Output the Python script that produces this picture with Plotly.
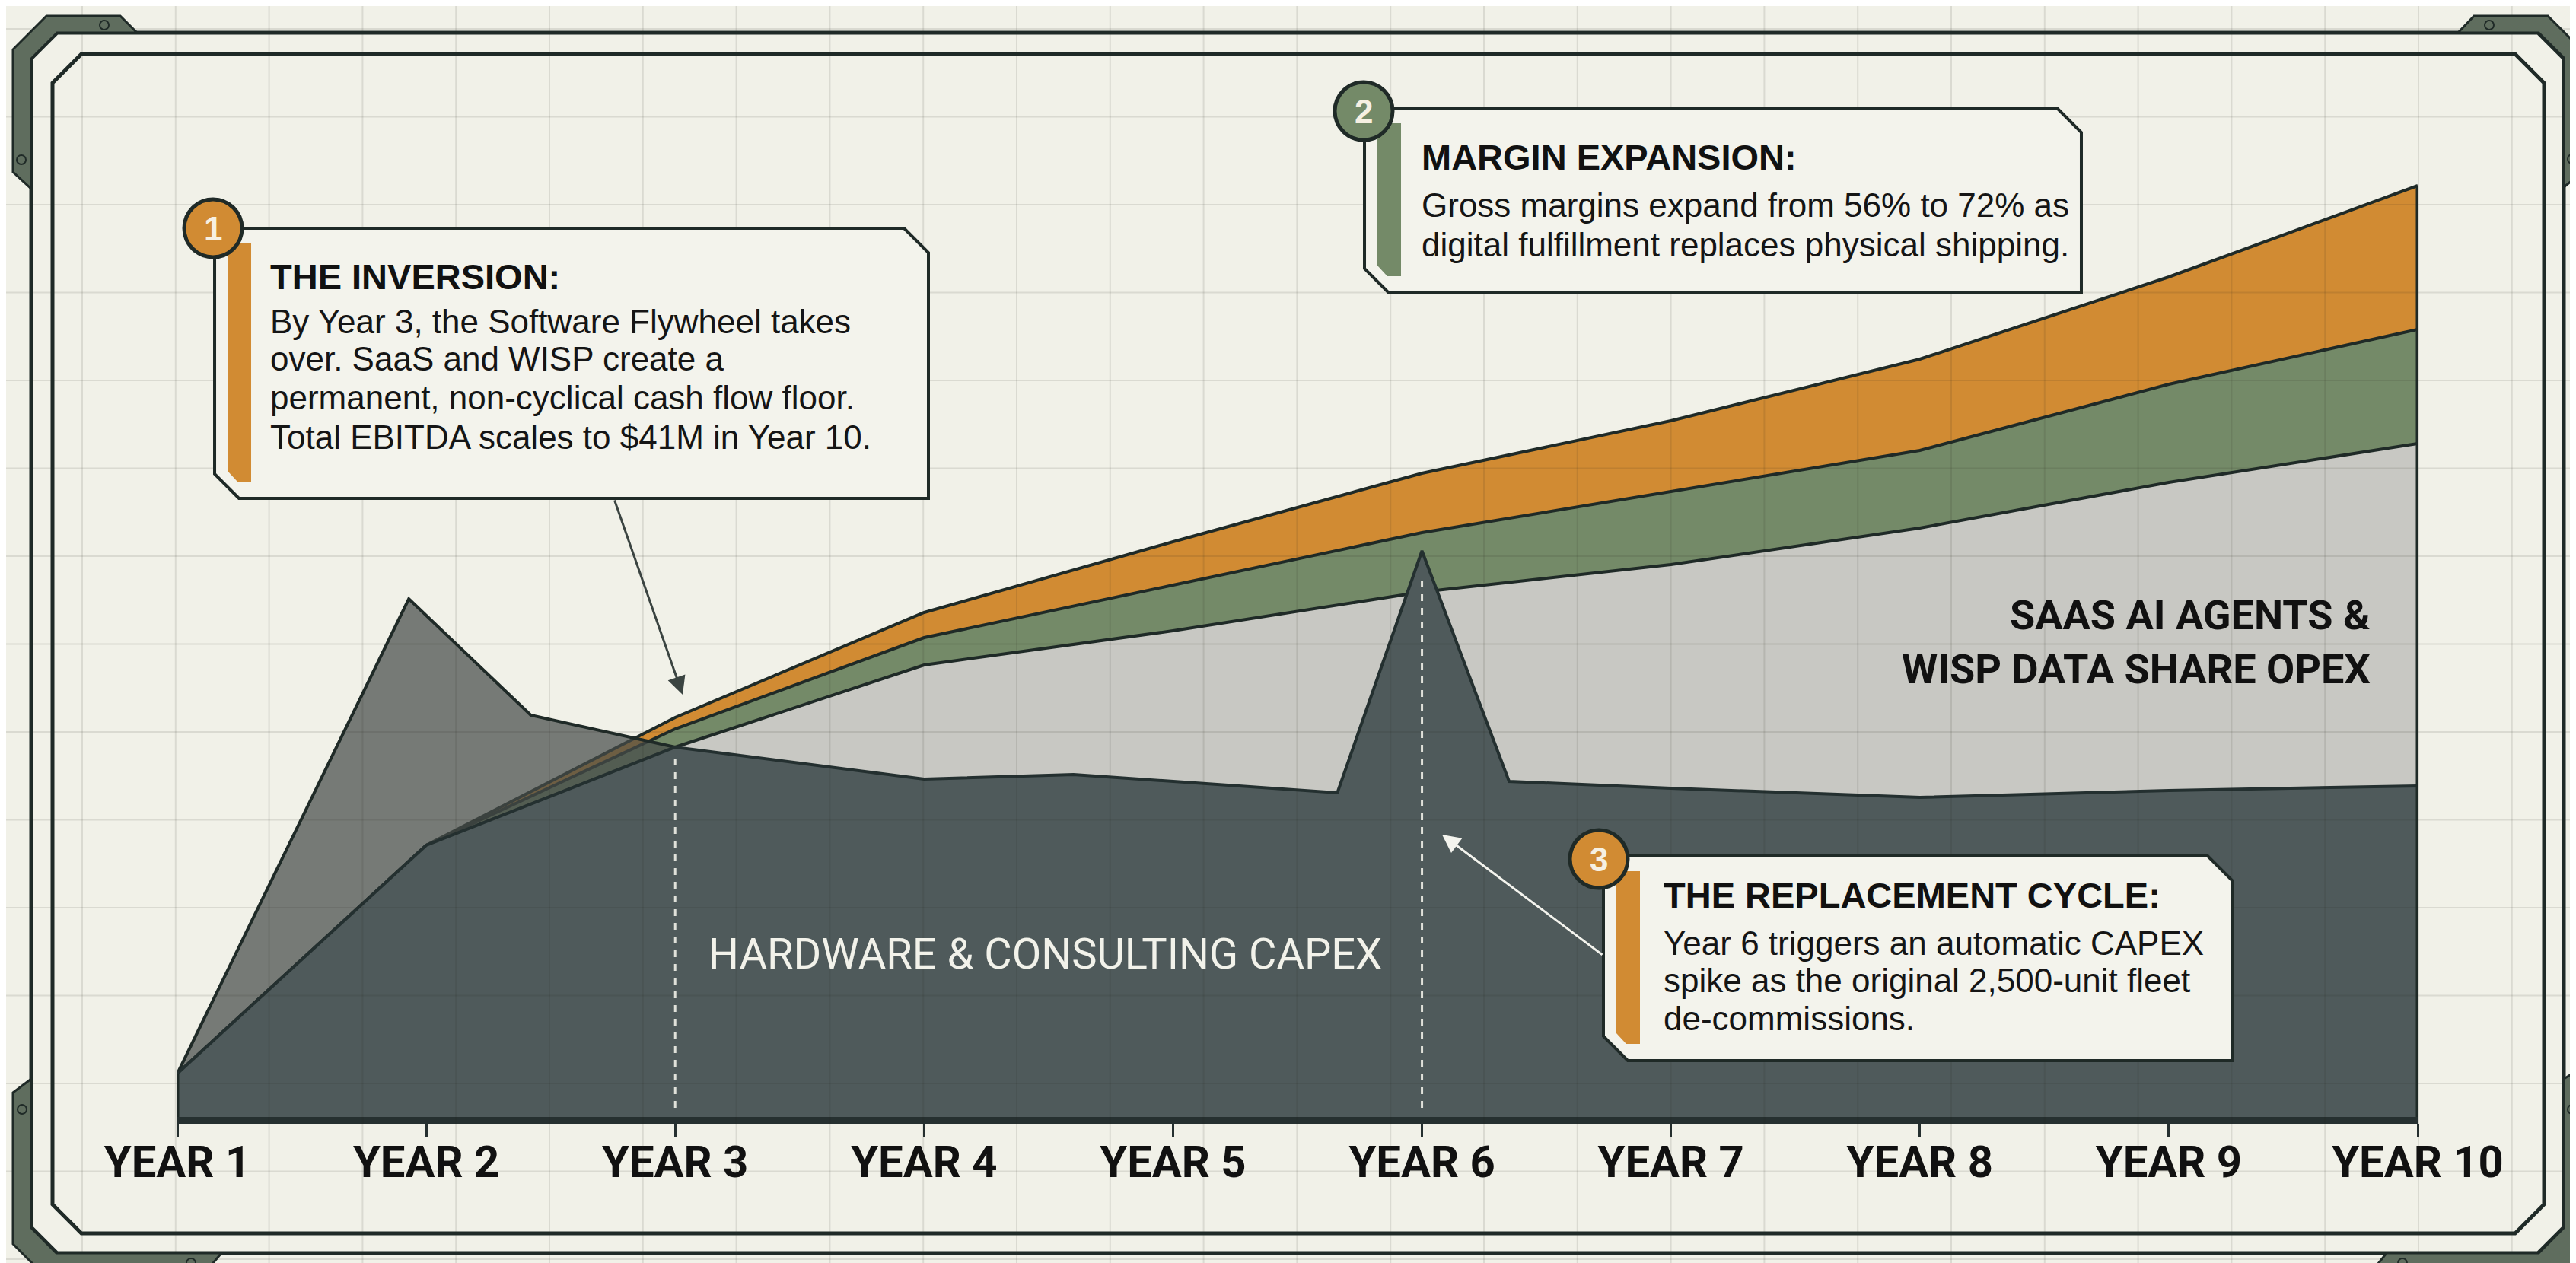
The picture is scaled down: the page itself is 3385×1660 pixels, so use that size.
import plotly.graph_objects as go

W, H = 3385, 1660

# ---------------- data ----------------
years = [1, 2, 3, 4, 5, 6, 7, 8, 9, 10]
year_labels = ["YEAR 1", "YEAR 2", "YEAR 3", "YEAR 4", "YEAR 5",
               "YEAR 6", "YEAR 7", "YEAR 8", "YEAR 9", "YEAR 10"]
saas_wisp_opex = [1.9, 11.9, 16.2, 19.8, 21.3, 23.0, 24.2, 25.8, 27.8, 29.5]
margin_layer = [0.0, 0.0, 0.8, 1.2, 2.0, 2.6, 3.2, 3.4, 4.3, 5.0]
top_layer = [0.0, 0.0, 0.5, 1.1, 1.9, 2.6, 3.1, 4.0, 4.7, 6.3]
capex_x = [1, 1.93, 2.42, 3, 4, 4.6, 5.66, 6, 6.35, 7, 8, 9, 10]
capex = [1.9, 22.7, 17.6, 16.2, 14.8, 15.0, 14.2, 24.8, 14.7, 14.4, 14.0, 14.3, 14.5]

# ---------------- styling ----------------
CREAM = "#f1f1e8"
INK = "#1f2a27"
DARK = "#4f5a5b"
GRAY = "#c8c8c3"
GREEN = "#748a68"
ORANGE = "#d18b33"
BRACKET = "#5f6d5e"
NARROW = "Roboto, Liberation Sans, sans-serif"
SANS = "Liberation Sans, Arial, Helvetica, sans-serif"


def px(x):
    return x / W


def py(y):
    return 1 - y / H


def path(points):
    return "M " + " L ".join(f"{px(x):.5f},{py(y):.5f}" for x, y in points) + " Z"


fig = go.Figure()

# software stack
fig.add_trace(go.Scatter(x=years, y=saas_wisp_opex, stackgroup="sw", mode="lines",
                         fillcolor=GRAY, line=dict(color=INK, width=4),
                         name="SaaS AI Agents & WISP Data Share OPEX"))
fig.add_trace(go.Scatter(x=years, y=margin_layer, stackgroup="sw", mode="lines",
                         fillcolor=GREEN, line=dict(color=INK, width=4),
                         name="Margin expansion"))
fig.add_trace(go.Scatter(x=years, y=top_layer, stackgroup="sw", mode="lines",
                         fillcolor=ORANGE, line=dict(color=INK, width=4),
                         name="Digital fulfillment"))

# hardware capex above the software floor (early years)
fig.add_trace(go.Scatter(x=capex_x[:4], y=capex[:4], fill="tozeroy", mode="lines",
                         fillcolor="rgba(70,76,74,0.72)", line=dict(color=INK, width=4),
                         name="Hardware & Consulting CAPEX"))
# dark core region
fig.add_trace(go.Scatter(x=years[:2] + capex_x[3:], y=saas_wisp_opex[:2] + capex[3:],
                         fill="tozeroy", mode="lines", fillcolor=DARK,
                         line=dict(color="#243030", width=4), name="CAPEX core"))

shapes = []
# background grid over the whole canvas
gx = 100.0
while gx < W:
    shapes.append(dict(type="line", xref="paper", yref="paper", x0=px(gx), x1=px(gx),
                       y0=0, y1=1, line=dict(color="rgba(40,40,30,0.11)", width=2), layer="above"))
    gx += 122.8
gy = 30.0
while gy < H:
    shapes.append(dict(type="line", xref="paper", yref="paper", x0=0, x1=1,
                       y0=py(gy), y1=py(gy), line=dict(color="rgba(40,40,30,0.11)", width=2), layer="above"))
    gy += 115.5

# edge strokes of the stack
total_end = saas_wisp_opex[-1] + margin_layer[-1] + top_layer[-1]
shapes.append(dict(type="line", xref="x", yref="y", x0=10, x1=10, y0=0, y1=total_end,
                   line=dict(color=INK, width=5), layer="above"))
shapes.append(dict(type="line", xref="x", yref="y", x0=1, x1=1, y0=0, y1=capex[0],
                   line=dict(color=INK, width=5), layer="above"))

# dashed markers
shapes.append(dict(type="line", xref="x", yref="y", x0=3, x1=3, y0=0.4, y1=capex[3] - 0.3,
                   line=dict(color="rgba(240,240,232,0.9)", width=3, dash="dash"), layer="above"))
shapes.append(dict(type="line", xref="x", yref="y", x0=6, x1=6, y0=0.4, y1=capex[7] - 1.2,
                   line=dict(color="rgba(240,240,232,0.9)", width=3, dash="dash"), layer="above"))


def chamfer_rect(x0, y0, x1, y1, c):
    return [(x0 + c, y0), (x1 - c, y0), (x1, y0 + c), (x1, y1 - c),
            (x1 - c, y1), (x0 + c, y1), (x0, y1 - c), (x0, y0 + c)]


# frame
shapes.append(dict(type="path", xref="paper", yref="paper",
                   path=path(chamfer_rect(33, 35, 3361, 1639, 34)),
                   line=dict(color=INK, width=5), layer="above"))
shapes.append(dict(type="path", xref="paper", yref="paper",
                   path=path(chamfer_rect(61, 63, 3335, 1613, 38)),
                   line=dict(color=INK, width=5), layer="above"))

brackets = [
    [(53, 13), (150, 13), (172, 35), (67, 35), (33, 69), (33, 240), (9, 218), (9, 57)],
    [(3243, 13), (3340, 13), (3383, 56), (3383, 220), (3361, 238), (3361, 68), (3328, 35), (3222, 35)],
    [(9, 1428), (33, 1410), (33, 1606), (66, 1639), (283, 1639), (262, 1664), (46, 1664), (9, 1627)],
    [(3361, 1410), (3390, 1392), (3390, 1664), (3108, 1664), (3128, 1639), (3328, 1639), (3361, 1606)],
]
for b in brackets:
    shapes.append(dict(type="path", xref="paper", yref="paper", path=path(b),
                       fillcolor=BRACKET, line=dict(color=INK, width=3), layer="above"))
for sx, sy in [(129, 25), (20, 202), (3263, 25), (3372, 201), (21, 1450), (243, 1652),
               (3372, 1450), (3149, 1652)]:
    shapes.append(dict(type="circle", xref="paper", yref="paper",
                       x0=px(sx - 6), x1=px(sx + 6), y0=py(sy + 6), y1=py(sy - 6),
                       line=dict(color=INK, width=2), fillcolor="rgba(0,0,0,0)", layer="above"))

# annotation boxes
boxes = [
    dict(l=274, t=292, r=1212, b=647, bar=ORANGE, badge=(272, 292), num="1"),
    dict(l=1785, t=134, r=2727, b=377, bar=GREEN, badge=(1784, 138), num="2"),
    dict(l=2099, t=1117, r=2925, b=1386, bar=ORANGE, badge=(2093, 1121), num="3"),
]
annotations = []
for bx in boxes:
    l, t, r, b = bx["l"], bx["t"], bx["r"], bx["b"]
    c = 32
    pts = [(l, t), (r - c, t), (r, t + c), (r, b), (l + c, b), (l, b - c)]
    shapes.append(dict(type="path", xref="paper", yref="paper", path=path(pts),
                       fillcolor="#f3f3ec", line=dict(color=INK, width=4), layer="above"))
    bar = [(l + 17, t + 20), (l + 48, t + 20), (l + 48, b - 22), (l + 30, b - 22), (l + 17, b - 36)]
    shapes.append(dict(type="path", xref="paper", yref="paper", path=path(bar),
                       fillcolor=bx["bar"], line=dict(width=0), layer="above"))
    cx, cy = bx["badge"]
    rr = 38
    shapes.append(dict(type="circle", xref="paper", yref="paper",
                       x0=px(cx - rr), x1=px(cx + rr), y0=py(cy + rr), y1=py(cy - rr),
                       fillcolor=bx["bar"], line=dict(color=INK, width=5), layer="above"))
    annotations.append(dict(xref="paper", yref="paper", x=px(cx), y=py(cy), text=f"<b>{bx['num']}</b>",
                            showarrow=False, xanchor="center", yanchor="middle",
                            font=dict(family=SANS, size=44, color="#f6f0e2")))

box_texts = [
    (345, 356, "THE INVERSION:", [
        (414, "By Year 3, the Software Flywheel takes"),
        (464, "over. SaaS and WISP create a"),
        (514, "permanent, non-cyclical cash flow floor."),
        (566, "Total EBITDA scales to $41M in Year 10."),
    ]),
    (1858, 199, "MARGIN EXPANSION:", [
        (261, "Gross margins expand from 56% to 72% as"),
        (313, "digital fulfillment replaces physical shipping."),
    ]),
    (2176, 1168, "THE REPLACEMENT CYCLE:", [
        (1231, "Year 6 triggers an automatic CAPEX"),
        (1280, "spike as the original 2,500-unit fleet"),
        (1330, "de-commissions."),
    ]),
]
for tx, ty, title, lines in box_texts:
    annotations.append(dict(xref="paper", yref="paper", x=px(tx), y=py(ty), text=f"<b>{title}</b>",
                            showarrow=False, xanchor="left", yanchor="middle",
                            font=dict(family=SANS, size=47, color="#111111")))
    for ly, line in lines:
        annotations.append(dict(xref="paper", yref="paper", x=px(tx), y=py(ly), text=line,
                                showarrow=False, xanchor="left", yanchor="middle",
                                font=dict(family=SANS, size=44, color="#151515")))

# region labels
annotations.append(dict(xref="paper", yref="paper", x=px(1365), y=py(1246),
                        text="HARDWARE & CONSULTING CAPEX", showarrow=False,
                        xanchor="center", yanchor="middle",
                        font=dict(family=NARROW, size=56, color="#f2f2ea")))
annotations.append(dict(xref="paper", yref="paper", x=px(3109), y=py(800),
                        text="<b>SAAS AI AGENTS &</b>", showarrow=False,
                        xanchor="right", yanchor="middle",
                        font=dict(family=NARROW, size=54, color="#111111")))
annotations.append(dict(xref="paper", yref="paper", x=px(3109), y=py(871),
                        text="<b>WISP DATA SHARE OPEX</b>", showarrow=False,
                        xanchor="right", yanchor="middle",
                        font=dict(family=NARROW, size=54, color="#111111")))

# arrows
annotations.append(dict(xref="paper", yref="paper", x=px(889), y=py(905), text="",
                        showarrow=True, ax=799 - 889, ay=648 - 905, axref="pixel", ayref="pixel",
                        arrowhead=2, arrowsize=1.6, arrowwidth=3, arrowcolor="#3b4441"))
annotations.append(dict(xref="paper", yref="paper", x=px(1887), y=py(1089), text="",
                        showarrow=True, ax=2099 - 1887, ay=1248 - 1089, axref="pixel", ayref="pixel",
                        arrowhead=2, arrowsize=1.6, arrowwidth=3, arrowcolor="#f4f4ee"))

fig.update_layout(
    width=W, height=H, autosize=False,
    margin=dict(l=0, r=0, t=0, b=0, pad=0, autoexpand=False),
    paper_bgcolor=CREAM, plot_bgcolor="rgba(0,0,0,0)",
    showlegend=False,
    shapes=shapes, annotations=annotations,
    xaxis=dict(domain=[225 / W, 3169 / W], range=[1, 10], tickmode="array",
               tickvals=years, ticktext=[f"<b>{t}</b>" for t in year_labels],
               showgrid=False, zeroline=False, automargin=False,
               showline=True, linecolor="#263030", linewidth=9,
               ticks="outside", ticklen=18, tickwidth=3, tickcolor="#263030",
               ticklabelstandoff=-18,
               tickfont=dict(family=NARROW, size=58, color="#111111"), fixedrange=True),
    yaxis=dict(domain=[(H - 1460) / H, (H - 110) / H], range=[0, 45], visible=False,
               showgrid=False, zeroline=False, automargin=False, fixedrange=True),
)

fig.write_html("out.html")
